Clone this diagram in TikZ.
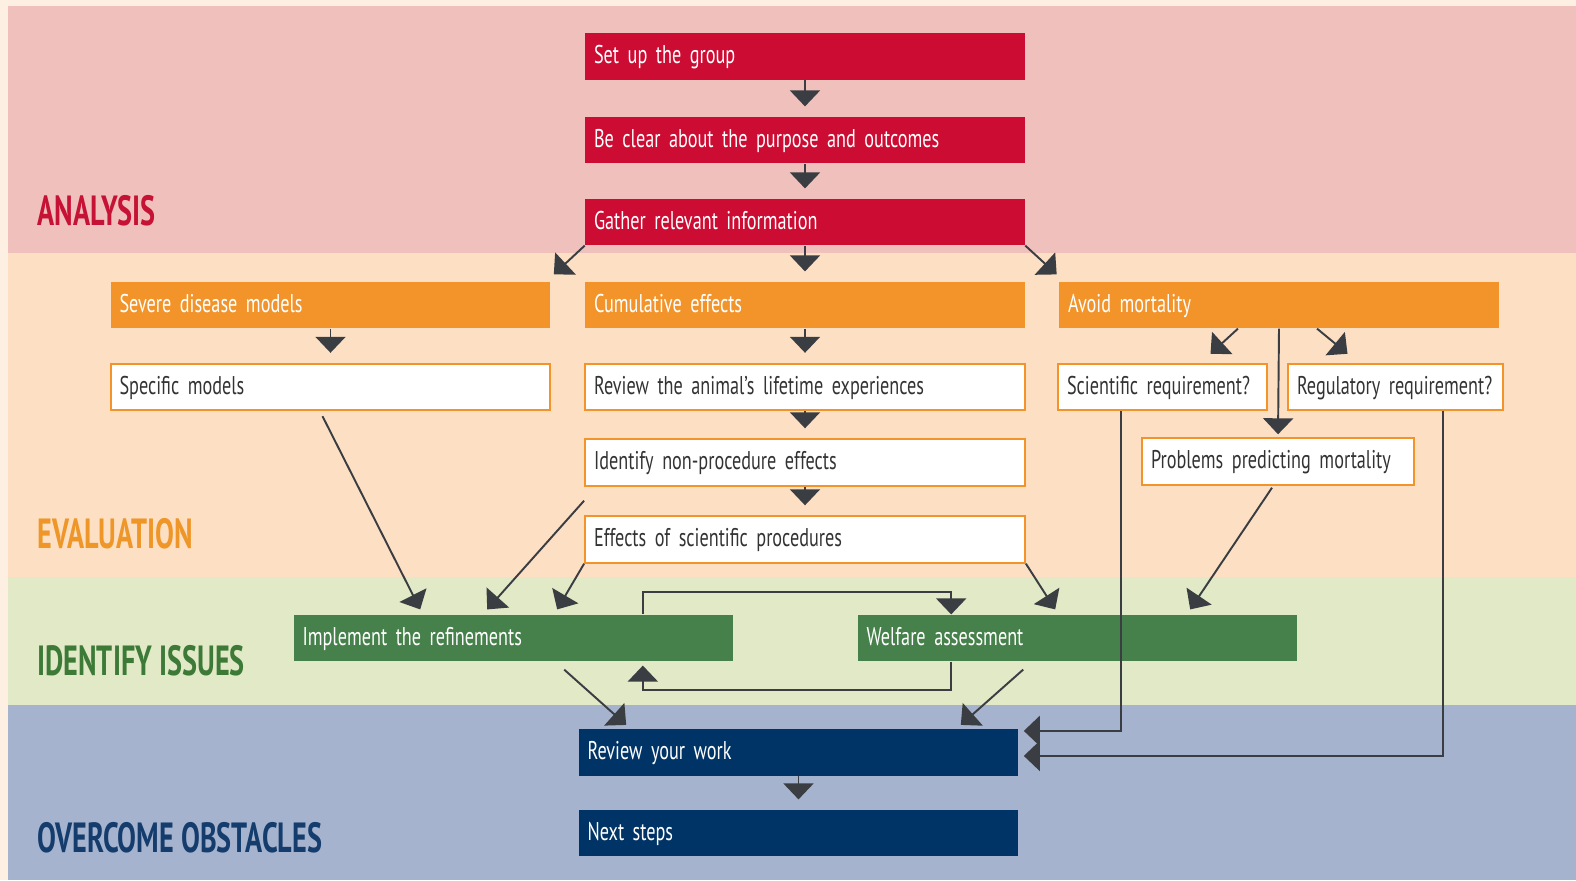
\documentclass[tikz,border=0pt]{standalone}
\usepackage{fontspec}
\setmainfont[FakeStretch=0.71]{PT Sans}
\newfontfamily\bandfont[FakeStretch=0.67]{PT Sans}
\usepackage{tikz}
\usetikzlibrary{arrows.meta,positioning,calc}
\definecolor{creambg}{RGB}{253,240,226}
\definecolor{analysisbg}{RGB}{240,193,188}
\definecolor{evalbg}{RGB}{253,224,196}
\definecolor{issuebg}{RGB}{225,233,198}
\definecolor{obstaclebg}{RGB}{165,179,206}
\definecolor{stepred}{RGB}{204,12,50}
\definecolor{steporange}{RGB}{242,148,41}
\definecolor{stepgreen}{RGB}{70,128,74}
\definecolor{stepnavy}{RGB}{0,52,102}
\definecolor{arrowgrey}{RGB}{58,61,66}
\definecolor{labelred}{RGB}{198,18,52}
\definecolor{labelorange}{RGB}{238,150,40}
\definecolor{labelgreen}{RGB}{61,122,56}
\definecolor{labelnavy}{RGB}{20,60,108}
\newcommand\boxfont{\fontsize{14.6}{17}\selectfont\spaceskip=0.13em plus 0.03em\relax\hyphenpenalty=10000\relax}

\begin{document}
\begin{tikzpicture}[
    x=0.02cm, y=-0.02cm,
    box/.style={minimum height=0.93cm, inner xsep=0.18cm, inner ysep=0pt, align=left,
        text height=0.4cm, text depth=0.11cm, font=\boxfont},
    redbox/.style={box, fill=stepred, text=white, text width=8.44cm},
    orangebox/.style={box, fill=steporange, text=white, text width=8.44cm},
    whitebox/.style={box, fill=white, draw=steporange, line width=1.1pt, text=black!80, text width=#1},
    whitebox/.default=8.44cm,
    greenbox/.style={box, fill=stepgreen, text=white, text width=8.44cm},
    navybox/.style={box, fill=stepnavy, text=white, text width=8.44cm},
    bandlabel/.style={anchor=west, inner sep=0pt, font=\bandfont\bfseries\fontsize{24}{28}\selectfont},
    arr/.style={-{Triangle[width=0.6cm,length=0.32cm]}, line width=1.1pt, draw=arrowgrey},
    down/.style={arr, shorten >=0.2cm}
]
    % bands
    \fill[creambg] (0,0) rectangle (1576,880);
    \fill[analysisbg] (8,6) rectangle (1576,253);
    \fill[evalbg] (8,253) rectangle (1576,577);
    \fill[issuebg] (8,577) rectangle (1576,705);
    \fill[obstaclebg] (8,705) rectangle (1576,880);

    \node[bandlabel, text=labelred] (lblanalysis) at (37,211) {ANALYSIS};
    \node[bandlabel, text=labelorange] (lbleval) at (37,534) {EVALUATION};
    \node[bandlabel, text=labelgreen] (lblissues) at (37,661) {IDENTIFY ISSUES};
    \node[bandlabel, text=labelnavy] (lblobstacles) at (37,838) {OVERCOME OBSTACLES};

    % analysis
    \node[redbox] (setup) at (805,56.5) {Set up the group};
    \node[redbox] (clear) at (805,140) {Be clear about the purpose and outcomes};
    \node[redbox] (gather) at (805,222) {Gather relevant information};

    % evaluation
    \node[orangebox] (severe) at (330.5,305) {Severe disease models};
    \node[orangebox] (cumul) at (805,305) {Cumulative effects};
    \node[orangebox] (avoid) at (1279,305) {Avoid mortality};
    \node[whitebox] (specific) at (330.5,387) {Specific models};
    \node[whitebox] (review) at (805,387) {Review the animal's lifetime experiences};
    \node[whitebox] (identify) at (805,462.5) {Identify non-procedure effects};
    \node[whitebox] (effects) at (805,539.5) {Effects of scientific procedures};
    \node[whitebox=3.82cm] (scireq) at (1162.5,387) {Scientific requirement?};
    \node[whitebox=3.94cm] (regreq) at (1395.5,387) {Regulatory requirement?};
    \node[whitebox=5.08cm] (predict) at (1278,461.5) {Problems predicting mortality};

    % identify issues
    \node[greenbox] (implement) at (513.5,638) {Implement the refinements};
    \node[greenbox] (welfare) at (1077.5,638) {Welfare assessment};

    % overcome obstacles
    \node[navybox] (reviewwork) at (798.5,752.5) {Review your work};
    \node[navybox] (nextsteps) at (798.5,833) {Next steps};

    % arrow ends
    \coordinate (gsw) at ($(severe.north east)+(3,-7)$);
    \coordinate (gse) at ($(avoid.north west)+(-2,-7)$);
    \coordinate (sciin) at ($(scireq.north)+(48,-9)$);
    \coordinate (regin) at ($(regreq.north)+(-48,-9)$);
    \coordinate (idout) at ($(identify.south west)+(0,14)$);
    \coordinate (imp1) at ($(implement.north west)+(127,-5)$);
    \coordinate (imp2) at ($(implement.north west)+(194,-5)$);
    \coordinate (imp3) at ($(implement.north west)+(264,-5)$);
    \coordinate (wel1) at ($(welfare.north west)+(198,-5)$);
    \coordinate (wel2) at ($(welfare.north west)+(333,-5)$);
    \coordinate (loopA) at ($(implement.north east)+(-91,0)$);
    \coordinate (loopB) at ($(welfare.north west)+(94,0)$);
    \coordinate (loopC) at ($(welfare.south west)+(94,0)$);
    \coordinate (loopD) at ($(implement.south east)+(-91,4)$);
    \coordinate (rw1) at ($(reviewwork.north west)+(48,-4)$);
    \coordinate (rw2) at ($(reviewwork.north east)+(-58,-4)$);
    \coordinate (rw3) at ($(reviewwork.north east)+(5,2)$);
    \coordinate (rw4) at ($(reviewwork.north east)+(5,27)$);

    \draw[down] (setup) -- (clear);
    \draw[down] (clear) -- (gather);
    \draw[down] (gather) -- (cumul);
    \draw[arr] (gather.south west) -- (gsw);
    \draw[arr] (gather.south east) -- (gse);
    \draw[down] (severe) -- (specific);
    \draw[down] (cumul) -- (review);
    \draw[down] (review) -- (identify);
    \draw[down] (identify) -- (effects);
    \draw[arr] ($(avoid.south)+(-41,0)$) -- (sciin);
    \draw[arr] ($(avoid.south)+(38,0)$) -- (regin);
    \draw[arr, shorten >=0.06cm] (avoid.south) -- (predict.north);

    \draw[arr] ($(specific.south)+(-8,5)$) -- (imp1);
    \draw[arr] (idout) -- (imp2);
    \draw[arr] (effects.south west) -- (imp3);
    \draw[arr] (effects.south east) -- (wel1);
    \draw[arr] ($(predict.south)+(-6,2)$) -- (wel2);

    \draw[arr] (loopA) -- ($(loopA)+(0,-22)$) -| (loopB);
    \draw[arr] (loopC) -- ($(loopC)+(0,28)$) -| (loopD);

    \draw[arr] ($(implement.south west)+(271,8)$) -- (rw1);
    \draw[arr] ($(welfare.south west)+(166,8)$) -- (rw2);
    \draw[arr] ($(scireq.south west)+(64,0)$) |- (rw3);
    \draw[arr] ($(regreq.south west)+(156,0)$) |- (rw4);
    \draw[down] (reviewwork) -- (nextsteps);
\end{tikzpicture}
\end{document}
